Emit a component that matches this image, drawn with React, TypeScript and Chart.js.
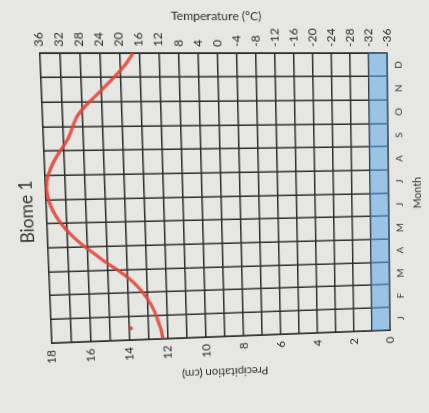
import React, { useEffect, useRef } from 'react';
import { Chart, registerables } from 'chart.js';

Chart.register(...registerables);

// Data read from the (hand-drawn, photographed) chart
const months = ['J', 'F', 'M', 'A', 'M', 'J', 'J', 'A', 'S', 'O', 'N', 'D'];
const temperature = [13.5, 15.3, 19, 25.3, 31, 34.5, 35.7, 34.2, 31, 28.7, 23.8, 19];
// where the hand-drawn curve meets the left (Jan) and right (Dec) edges of the grid
const temperatureStartEdge = 13;
const temperatureEndEdge = 17.3;
const precipitation = [1, 1, 1, 1, 1, 1, 1, 1, 1, 1, 1, 1];
// small stray red mark in the January row
const strayMarkMonth = 0;
const strayMarkTemp = 19.6;

const precipMin = 0;
const precipMax = 18;
const precipStep = 2;
const tempMin = -36;
const tempMax = 36;
const tempStep = 4;

const titleText = 'Biome 1';
const xTitle = 'Month';
const precipTitle = 'Precipitation (cm)';
const tempTitle = 'Temperature (°C)';

const W = 413;
const H = 429;
const INK = '#2e2e2e';
const FONT = 'Lato';

// Photo perspective: grid rectangle as laid out -> grid quad as seen in the photo
const srcQuad: [number, number][] = [[46, 53], [388, 53], [388, 337], [46, 337]];
const dstQuad: [number, number][] = [[40, 53], [387, 53], [390, 330], [52, 343]];

function perspectiveMatrix(src: [number, number][], dst: [number, number][]): string {
  const A: number[][] = [];
  for (let i = 0; i < 4; i++) {
    const [x, y] = src[i];
    const [u, v] = dst[i];
    A.push([x, y, 1, 0, 0, 0, -x * u, -y * u, u]);
    A.push([0, 0, 0, x, y, 1, -x * v, -y * v, v]);
  }
  const n = 8;
  for (let c = 0; c < n; c++) {
    let p = c;
    for (let r = c + 1; r < n; r++) if (Math.abs(A[r][c]) > Math.abs(A[p][c])) p = r;
    [A[c], A[p]] = [A[p], A[c]];
    for (let r = 0; r < n; r++) {
      if (r === c) continue;
      const f = A[r][c] / A[c][c];
      for (let k = c; k <= n; k++) A[r][k] -= f * A[c][k];
    }
  }
  const s = A.map((row, i) => row[n] / row[i]);
  const [a, b, c, d, e, f, g, h] = s;
  return `matrix3d(${a},${d},0,${g},${b},${e},0,${h},0,0,1,0,${c},${f},0,1)`;
}

export default function App() {
  const ref = useRef<HTMLCanvasElement>(null);

  useEffect(() => {
    const linePts = [
      { x: -0.5, y: temperatureStartEdge },
      ...temperature.map((t, i) => ({ x: i, y: t })),
      { x: months.length - 0.5, y: temperatureEndEdge },
    ];
    const chart = new Chart(ref.current as HTMLCanvasElement, {
      type: 'bar',
      data: {
        labels: months,
        datasets: [
          {
            type: 'bar',
            label: 'Precipitation',
            data: precipitation,
            xAxisID: 'x',
            yAxisID: 'y',
            backgroundColor: 'rgba(80,160,232,0.5)',
            borderWidth: 0,
            grouped: false,
            barPercentage: 1,
            categoryPercentage: 1,
            order: 2,
          } as any,
          {
            type: 'line',
            label: 'Temperature',
            data: linePts as any,
            xAxisID: 'xl',
            yAxisID: 'y1',
            borderColor: 'rgba(230,66,54,0.88)',
            borderWidth: 3.2,
            pointRadius: 0,
            tension: 0.4,
            fill: false,
            order: 0,
          } as any,
          {
            type: 'line',
            label: 'mark',
            data: [{ x: strayMarkMonth, y: strayMarkTemp }] as any,
            xAxisID: 'xl',
            yAxisID: 'y1',
            showLine: false,
            pointRadius: 2,
            pointBackgroundColor: 'rgba(228,62,52,0.9)',
            pointBorderWidth: 0,
            order: 0,
          } as any,
        ],
      },
      options: {
        responsive: false,
        animation: false,
        events: [],
        layout: { padding: 0 },
        datasets: {
          bar: { barPercentage: 1, categoryPercentage: 1 },
        } as any,
        plugins: {
          legend: { display: false },
          tooltip: { enabled: false },
          title: {
            display: true,
            text: titleText,
            color: '#333',
            font: { family: FONT, size: 17, weight: 'normal' },
            padding: { top: 17, bottom: 8 },
          },
        },
        scales: {
          x: {
            type: 'category',
            position: 'bottom',
            offset: true,
            grid: { offset: true, color: INK, lineWidth: 1.5, drawTicks: false },
            border: { color: INK, width: 1.5 },
            ticks: {
              color: '#333',
              font: { family: FONT, size: 10 },
              padding: 6,
              maxRotation: 0,
              autoSkip: false,
            },
            title: {
              display: true,
              text: xTitle,
              color: '#333',
              font: { family: FONT, size: 11 },
              padding: { top: 0, bottom: 4 },
            },
            afterFit: (s: any) => {
              s.height = 41;
            },
          },
          xl: {
            type: 'linear',
            display: false,
            offset: false,
            min: -0.5,
            max: months.length - 0.5,
            grid: { offset: false },
          },
          y: {
            type: 'linear',
            position: 'left',
            min: precipMin,
            max: precipMax,
            grid: { display: false, drawTicks: false },
            border: { color: INK, width: 1.5 },
            ticks: {
              stepSize: precipStep,
              color: '#2a2a2a',
              font: { family: FONT, size: 12 },
              padding: 7,
            },
            title: {
              display: true,
              text: precipTitle,
              color: '#333',
              font: { family: FONT, size: 11.5 },
              padding: { top: 32, bottom: 0 },
            },
            afterFit: (s: any) => {
              s.width = 76;
            },
          },
          y1: {
            type: 'linear',
            position: 'right',
            min: tempMin,
            max: tempMax,
            grid: { color: INK, lineWidth: 1.5, drawTicks: false },
            border: { color: INK, width: 1.5 },
            ticks: {
              stepSize: tempStep,
              color: '#2a2a2a',
              font: { family: FONT, size: 12 },
              padding: 6,
            },
            title: {
              display: true,
              text: tempTitle,
              color: '#333',
              font: { family: FONT, size: 12 },
              padding: { top: 10, bottom: 0 },
            },
            afterFit: (s: any) => {
              s.width = 53;
            },
          },
        },
      },
    });
    return () => chart.destroy();
  }, []);

  return (
    <div
      style={{
        position: 'fixed',
        left: 0,
        top: 0,
        width: 429,
        height: 413,
        overflow: 'hidden',
        background: '#e6e6e3',
      }}
    >
      <div
        style={{
          position: 'absolute',
          left: 0,
          top: 0,
          width: 429,
          height: 413,
          transformOrigin: '0 0',
          transform: perspectiveMatrix(srcQuad, dstQuad),
        }}
      >
        <div
          style={{
            position: 'absolute',
            left: 0,
            top: 0,
            width: W,
            height: H,
            transformOrigin: '0 0',
            transform: `translate(0px, ${W}px) rotate(-90deg)`,
          }}
        >
          <canvas ref={ref} width={W} height={H} style={{ display: 'block', width: W, height: H }} />
        </div>
      </div>
    </div>
  );
}
